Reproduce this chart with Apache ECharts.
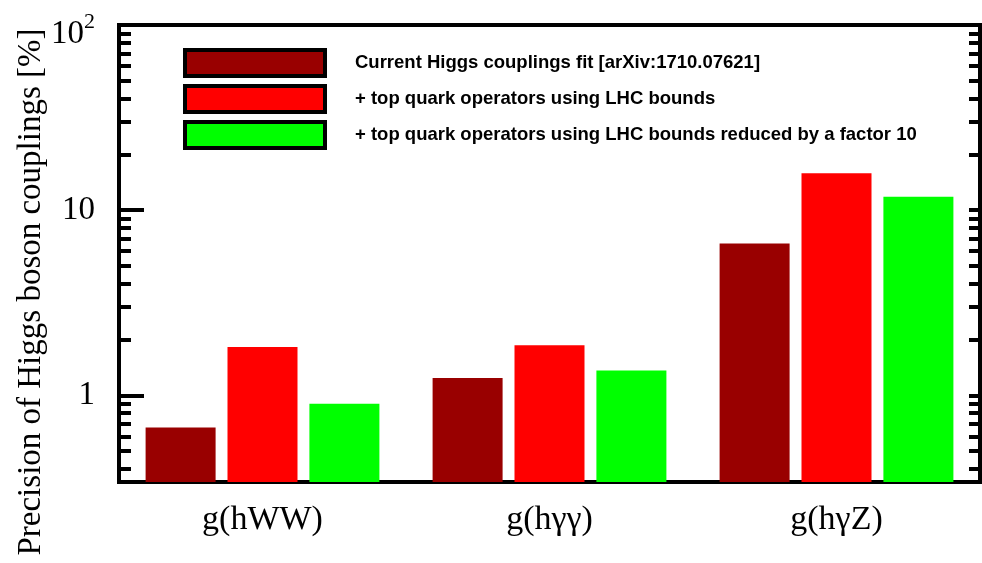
<!DOCTYPE html>
<html>
<head>
<meta charset="utf-8">
<script src="https://cdn.jsdelivr.net/npm/echarts@6/dist/echarts.min.js"></script>
<style>
  html, body { margin: 0; padding: 0; background: #ffffff; }
  #chart { width: 982px; height: 563px; }
</style>
</head>
<body>
<div id="chart"></div>
<script>
// Couplings on the category axis
const categories = ['g(hWW)', 'g(hγγ)', 'g(hγZ)'];

// Legend entries, one per scenario
const seriesNames = [
  'Current Higgs couplings fit [arXiv:1710.07621]',
  '+ top quark operators using LHC bounds',
  '+ top quark operators using LHC bounds reduced by a factor 10'
];

// Precision in percent for each scenario
const currentFit = [0.67, 1.24, 6.6];
const lhcBounds = [1.82, 1.86, 15.8];
const lhcReduced = [0.9, 1.36, 11.8];

// Log-axis range and tick positions
const yMin = 0.34;
const yMax = 100;
const labelTicks = [1, 10, 100];
const majorTicks = [1, 10];
const minorTicks = [0.4, 0.5, 0.6, 0.7, 0.8, 0.9,
                    2, 3, 4, 5, 6, 7, 8, 9,
                    20, 30, 40, 50, 60, 70, 80, 90];
const rightTicks = [0.4, 0.5, 0.6, 0.7, 0.8, 0.9, 1,
                    2, 3, 4, 5, 6, 7, 8, 9, 10,
                    20, 30, 40, 50, 60, 70, 80, 90];

const yTitle = 'Precision of Higgs boson couplings [%]';

const serifFont = '"Liberation Serif", "DejaVu Serif", serif';
const sansFont = '"Liberation Sans", Arial, sans-serif';
const colors = ['#990000', '#ff0000', '#00ff00'];

const chart = echarts.init(document.getElementById('chart'));

function logAxis(extra) {
  return Object.assign({
    type: 'log',
    logBase: 10,
    min: yMin,
    max: yMax,
    startValue: yMin,
    splitLine: { show: false },
    axisLine: { show: false },
    axisLabel: { show: false },
    axisTick: { show: false }
  }, extra);
}

const option = {
  animation: false,
  backgroundColor: '#ffffff',
  grid: {
    left: 119,
    right: 2,
    top: 25,
    bottom: 81,
    show: true,
    borderColor: '#000000',
    borderWidth: 4,
    backgroundColor: 'transparent'
  },
  legend: {
    orient: 'vertical',
    left: 178,
    top: 43,
    itemWidth: 140,
    itemHeight: 26,
    itemGap: 6,
    icon: 'rect',
    selectedMode: false,
    itemStyle: { borderColor: '#000000', borderWidth: 4 },
    textStyle: {
      fontFamily: sansFont,
      fontWeight: 'bold',
      fontSize: 18.5,
      color: '#000000',
      padding: [0, 0, 0, 25]
    },
    data: seriesNames
  },
  xAxis: {
    type: 'category',
    data: categories,
    axisLine: { show: false },
    axisTick: { show: false },
    splitLine: { show: false },
    axisLabel: {
      fontFamily: serifFont,
      fontSize: 34,
      color: '#000000',
      margin: 21
    }
  },
  yAxis: [
    logAxis({
      position: 'left',
      axisTick: {
        show: true, inside: true, length: 25,
        lineStyle: { color: '#000000', width: 4 },
        customValues: majorTicks
      },
      axisLabel: {
        show: true,
        margin: 24,
        fontFamily: serifFont,
        fontSize: 33,
        color: '#000000',
        customValues: labelTicks,
        formatter: function (v) {
          if (v >= 100) return '{b|10}{sup|2}';
          return String(Math.round(v));
        },
        rich: {
          b: { fontFamily: serifFont, fontSize: 33, color: '#000000', padding: [18, 0, 0, 0] },
          sup: { fontFamily: serifFont, fontSize: 22, color: '#000000', verticalAlign: 'top', padding: [12, 0, 0, 0] }
        }
      }
    }),
    logAxis({
      position: 'left',
      axisTick: {
        show: true, inside: true, length: 12,
        lineStyle: { color: '#000000', width: 4 },
        customValues: minorTicks
      }
    }),
    logAxis({
      position: 'right',
      axisTick: {
        show: true, inside: true, length: 11,
        lineStyle: { color: '#000000', width: 4 },
        customValues: rightTicks
      }
    })
  ],
  graphic: [{
    type: 'text',
    x: 31,
    y: 292,
    rotation: Math.PI / 2,
    style: {
      text: yTitle,
      font: '33px ' + serifFont,
      fill: '#000000',
      align: 'center',
      verticalAlign: 'middle'
    }
  }],
  series: [
    { name: seriesNames[0], data: currentFit, color: colors[0] },
    { name: seriesNames[1], data: lhcBounds, color: colors[1] },
    { name: seriesNames[2], data: lhcReduced, color: colors[2] }
  ].map(function (s) {
    return {
      type: 'bar',
      name: s.name,
      data: s.data,
      yAxisIndex: 0,
      barWidth: 70,
      barGap: '17%',
      itemStyle: { color: s.color }
    };
  })
};

chart.setOption(option);
</script>
</body>
</html>
